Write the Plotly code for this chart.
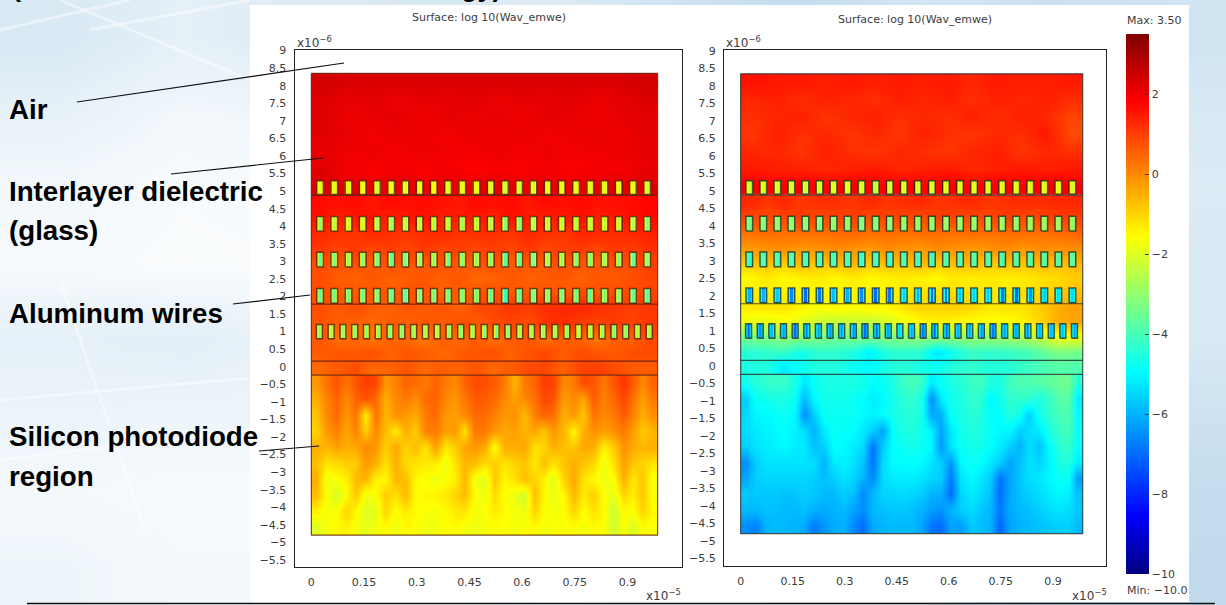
import numpy as np
import plotly.graph_objects as go

W, H = 1226, 605
FONT = "DejaVu Sans"
INK = "#3c3c3c"

# ---- axis ticks -------------------------------------------------------------
y_ticks = [9, 8.5, 8, 7.5, 7, 6.5, 6, 5.5, 5, 4.5, 4, 3.5, 3, 2.5, 2, 1.5, 1, 0.5, 0,
           -0.5, -1, -1.5, -2, -2.5, -3, -3.5, -4, -4.5, -5, -5.5]
x_ticks = [0, 0.15, 0.3, 0.45, 0.6, 0.75, 0.9]
cbar_ticks = [2, 0, -2, -4, -6, -8, -10]
z_min, z_max = -10.0, 3.5

# ---- layer boundaries (x 1e-6 m and x 1e-5 m) --------------------------------
domain_x_end = 0.986
top_y, glass_top_y, layer_a_y, layer_b_y, layer_c_y, bottom_y = 8.35, 4.88, 1.78, 0.16, -0.24, -4.79
wire_rows_y = [5.1, 4.07, 3.05, 2.02, 1.0]

# ---- left panel log10 field --------------------------------------------------
L_air = [
    [2.4, 2.3, 2.3, 2.3, 2.3, 2.3, 2.3, 2.3, 2.3, 2.3, 2.3, 2.3, 2.3, 2.4],
    [2.25, 2.1, 2.2, 2.05, 2.15, 2.1, 2.2, 2.05, 2.15, 2.1, 2.2, 2.05, 2.15, 2.25],
    [2.25, 2.05, 2.1, 2.15, 2.0, 2.15, 2.05, 2.15, 2.0, 2.15, 2.1, 2.0, 2.15, 2.2],
    [2.2, 2.1, 1.95, 2.1, 2.05, 1.95, 2.1, 2.0, 2.1, 1.95, 2.05, 2.1, 2.0, 2.2],
    [2.15, 2.0, 2.05, 1.95, 2.05, 2.0, 1.95, 2.05, 1.95, 2.05, 1.95, 2.0, 2.05, 2.15],
    [2.2, 1.95, 1.85, 1.95, 1.85, 1.95, 1.8, 1.9, 1.85, 1.95, 1.85, 1.95, 1.9, 2.1],
    [2.3, 2.2, 2.1, 2.2, 2.1, 2.15, 2.1, 2.2, 2.1, 2.2, 2.1, 2.15, 2.2, 2.3],
]
L_glass = [
    [1.7, 1.6, 1.7, 1.5, 1.7, 1.6, 1.7, 1.6, 1.5, 1.7, 1.6, 1.7, 1.5, 1.7, 1.6, 1.7, 1.6, 1.6, 1.7, 1.8],
    [1.6, 1.4, 1.5, 1.6, 1.4, 1.5, 1.6, 1.4, 1.5, 1.5, 1.4, 1.6, 1.5, 1.4, 1.5, 1.6, 1.4, 1.5, 1.6, 1.7],
    [1.3, 1.2, 1.1, 1.3, 1.2, 1.1, 1.2, 1.3, 1.1, 1.2, 1.2, 1.1, 1.3, 1.2, 1.1, 1.3, 1.3, 1.2, 1.3, 1.4],
    [1.1, 0.9, 1.1, 0.9, 1.0, 0.9, 1.1, 0.9, 1.0, 0.9, 1.0, 0.9, 1.1, 0.9, 1.0, 1.1, 0.9, 1.1, 1.0, 1.2],
    [0.8, 0.7, 0.8, 0.6, 0.8, 0.7, 0.6, 0.8, 0.6, 0.7, 0.8, 0.6, 0.7, 0.6, 0.8, 0.7, 0.6, 0.8, 0.8, 1.0],
    [0.8, 0.6, 0.5, 0.7, 0.5, 0.6, 0.7, 0.5, 0.7, 0.4, 0.5, 0.7, 0.5, 0.6, 0.7, 0.5, 0.7, 0.6, 0.8, 0.9],
    [0.8, 0.7, 0.6, 0.7, 0.6, 0.7, 0.7, 0.6, 0.6, 0.7, 0.8, 0.6, 0.7, 0.7, 0.6, 0.8, 0.7, 0.8, 0.8, 0.9],
    [0.8, 0.6, 0.8, 0.6, 0.5, 0.7, 0.6, 0.7, 0.5, 0.8, 0.9, 1.1, 1.0, 1.2, 1.3, 1.3, 1.2, 1.1, 1.0, 1.1],
    [0.7, 0.6, 0.5, 0.4, 0.6, 0.5, 0.7, 0.6, 0.8, 0.6, 0.8, 0.9, 0.8, 1.1, 1.2, 1.0, 0.9, 1.0, 0.9, 1.1],
    [0.7, 0.3, 0.5, 0.2, 0.5, 0.4, 0.2, 0.6, 0.4, 0.6, 0.3, 0.6, 0.7, 0.3, 0.6, 0.5, 0.2, 0.6, 0.5, 0.9],
    [0.6, 0.7, 0.6, 0.8, 0.5, 0.7, 0.6, 0.4, 0.6, 0.7, 0.8, 0.5, 0.7, 0.9, 0.6, 0.8, 0.7, 0.6, 0.8, 0.8],
    [0.4, 0.6, 0.8, 0.4, 0.5, 0.7, 0.4, 0.6, 0.5, 0.7, 0.4, 0.6, 0.8, 0.9, 0.5, 0.9, 1.0, 0.8, 0.6, 0.6],
]
L_silicon = [
    [-0.2, 0.3, 0.7, 0.3, 0.7, 1.0, 0.9, -0.2, 0.1, 0.5, 0.4, 0.2, 0.5, 0.2, 0.0, 0.5, 0.8, 0.8, 0.6, 0.2, -0.6, 0.2, 0.5, 1.0, 0.9, 0.0, 0.2, 0.8, 0.7, 0.2, 0.7, 1.1, 0.6, 0.0, 0.5],
    [-0.5, 0.1, 0.5, 0.0, 0.5, 0.7, 0.4, -0.5, 0.0, 0.2, -0.1, 0.4, 0.5, 0.0, -0.2, 0.2, 0.6, 0.6, 0.4, 0.0, -0.3, 0.0, 0.3, 0.9, 0.7, -0.3, 0.0, -0.4, 0.6, 0.1, 0.4, 0.9, 0.3, -0.3, 0.2],
    [-0.8, 0.0, 0.4, -0.2, 0.3, -1.4, 0.3, -0.6, -0.1, -0.2, -0.5, 0.2, 0.4, -0.2, -0.3, 0.0, 0.4, 0.4, 0.1, -0.2, -0.1, -0.7, 0.1, 0.5, 0.3, -0.5, -0.2, -0.8, 0.3, 0.0, 0.2, 0.6, 0.1, -0.5, -0.1],
    [-1.0, -0.2, 0.1, -0.4, 0.1, -0.9, 0.0, -0.7, -1.3, -0.5, -0.9, 0.1, 0.2, -0.3, -0.2, -1.2, 0.2, 0.2, -0.2, -0.4, -0.3, -0.6, -0.4, -0.8, -0.2, -0.6, -1.5, -0.5, -0.1, -0.3, -0.1, 0.2, -0.3, -0.9, -0.6],
    [-0.5, -0.6, -0.3, -0.5, -0.4, 0.0, -0.2, -0.9, -0.4, -1.0, -0.7, -1.2, -0.3, -1.3, -0.9, -0.4, -0.2, -0.4, -1.6, -0.5, -0.5, -0.4, -1.2, -1.0, -0.5, -0.7, -0.8, -0.4, -0.5, -1.4, -0.9, -0.1, -0.5, -0.6, -0.5],
    [-0.7, -1.2, -1.1, -0.9, -0.9, -0.2, -0.5, -1.2, -0.5, -1.1, -1.2, -1.3, -1.3, -1.8, -1.2, -0.6, -0.7, -1.1, -0.9, -1.2, -1.0, -0.8, -1.3, -0.7, -1.2, -0.8, -0.5, -0.8, -1.0, -1.8, -1.2, -0.3, -0.8, -1.0, -1.2],
    [-0.5, -1.8, -1.6, -1.4, -0.6, -0.6, -1.4, -1.5, -0.6, -0.7, -1.5, -1.6, -1.8, -1.6, -1.4, -0.6, -1.7, -2.0, -0.8, -1.5, -1.2, -0.7, -1.0, -1.4, -2.0, -1.0, -0.4, -1.2, -1.5, -1.8, -1.6, -0.5, -1.3, -0.8, -1.7],
    [-0.7, -1.6, -2.1, -1.5, -0.8, -1.8, -1.6, -0.9, -1.2, -0.6, -1.6, -1.5, -1.4, -1.3, -1.0, -0.7, -1.5, -1.8, -1.1, -1.6, -1.8, -2.2, -0.7, -1.5, -1.8, -1.5, -0.6, -1.3, -0.9, -1.6, -1.9, -1.0, -1.4, -0.8, -1.7],
    [-1.4, -1.7, -1.6, -1.0, -1.5, -2.0, -1.9, -1.0, -1.6, -1.3, -1.5, -1.6, -1.7, -1.5, -1.3, -1.2, -1.7, -1.6, -1.3, -1.5, -1.7, -1.8, -1.0, -1.6, -1.7, -1.6, -1.0, -1.6, -1.2, -1.5, -2.3, -1.5, -1.6, -1.0, -1.5],
    [-2.0, -1.7, -1.5, -1.4, -1.7, -1.9, -1.7, -1.5, -1.8, -1.5, -1.6, -1.8, -1.7, -1.6, -1.5, -1.7, -1.8, -1.7, -1.6, -1.6, -1.7, -1.6, -1.5, -1.7, -1.6, -1.6, -1.6, -1.7, -1.5, -1.6, -2.2, -1.6, -2.1, -1.6, -1.6],
]

# ---- right panel log10 field -------------------------------------------------
R_air = [
    [1.6, 1.5, 1.5, 1.4, 1.5, 1.4, 1.5, 1.4, 1.5, 1.3, 1.5, 1.4, 1.4, 1.5],
    [1.3, 1.4, 1.2, 1.4, 1.3, 1.2, 1.4, 1.3, 1.4, 1.2, 1.4, 1.3, 1.4, 1.2],
    [1.2, 1.3, 1.4, 1.1, 1.3, 1.4, 1.2, 1.3, 1.2, 1.4, 1.2, 1.4, 1.3, 0.9],
    [1.1, 1.4, 1.2, 1.3, 1.1, 1.3, 1.1, 1.4, 1.2, 1.1, 1.3, 1.2, 1.5, 0.8],
    [1.3, 1.3, 1.1, 1.4, 1.2, 1.1, 1.3, 1.2, 1.1, 1.3, 1.4, 1.1, 1.3, 1.2],
    [1.5, 1.4, 1.4, 1.3, 1.4, 1.5, 1.3, 1.4, 1.5, 1.3, 1.4, 1.5, 1.4, 1.5],
    [1.9, 1.8, 1.9, 1.8, 1.9, 1.8, 1.9, 1.8, 1.9, 1.8, 1.9, 1.8, 1.9, 1.9],
]
R_glass = [
    [1.3, 1.1, 1.3, 1.1, 1.2, 1.2, 1.1, 1.3, 1.1, 1.2, 1.3, 1.1, 1.2, 1.3, 1.1, 1.2, 1.3, 1.2, 1.3, 1.3],
    [0.9, 0.8, 0.9, 1.0, 0.8, 0.9, 1.0, 0.8, 0.9, 0.9, 0.8, 1.0, 0.9, 0.8, 0.9, 1.0, 0.8, 0.9, 1.0, 1.0],
    [0.3, 0.4, 0.3, 0.4, 0.3, 0.4, 0.5, 0.3, 0.4, 0.3, 0.4, 0.4, 0.3, 0.4, 0.3, 0.4, 0.4, 0.3, 0.4, 0.5],
    [-0.2, -0.1, 0.0, -0.2, -0.1, 0.0, -0.1, -0.2, 0.0, -0.1, -0.2, 0.0, -0.1, -0.2, -0.1, 0.0, -0.2, 0.0, -0.1, 0.0],
    [-0.9, -0.7, -0.9, -0.6, -0.9, -0.7, -0.6, -0.9, -0.7, -0.8, -0.6, -0.9, -0.7, -0.6, -0.9, -0.7, -0.8, -0.6, -0.7, -0.6],
    [-1.5, -1.3, -1.5, -1.4, -1.3, -1.5, -1.3, -1.5, -1.4, -1.3, -1.4, -1.5, -1.3, -1.4, -1.3, -1.4, -1.3, -1.2, -1.1, -0.9],
    [-1.4, -1.3, -1.4, -1.5, -1.5, -1.4, -1.5, -1.4, -1.5, -1.3, -1.2, -1.2, -1.1, -1.2, -1.3, -1.3, -1.2, -1.0, -0.9, -0.7],
    [-1.3, -1.2, -1.2, -1.4, -1.6, -1.4, -1.6, -1.4, -1.5, -1.2, -1.0, -1.0, -0.9, -1.0, -1.3, -1.2, -1.2, -0.9, -0.5, -0.3],
    [-1.8, -1.9, -1.7, -1.9, -2.2, -2.4, -2.2, -2.4, -2.1, -1.8, -1.5, -1.4, -1.5, -1.6, -1.6, -1.6, -1.4, -1.0, -0.5, -0.4],
    [-3.3, -3.2, -3.0, -3.1, -3.2, -3.4, -3.3, -3.3, -3.2, -3.1, -3.0, -3.0, -3.0, -2.9, -2.9, -2.8, -2.6, -2.3, -1.7, -1.7],
    [-4.4, -4.3, -4.2, -4.7, -4.3, -4.3, -4.5, -5.1, -4.5, -4.3, -4.4, -5.3, -4.7, -4.2, -4.3, -4.2, -4.1, -3.7, -3.3, -3.4],
    [-4.6, -4.5, -5.2, -4.8, -4.5, -4.5, -4.8, -5.0, -4.6, -4.4, -4.6, -4.8, -4.4, -4.3, -4.5, -4.5, -4.2, -4.0, -3.8, -3.9],
]
R_silicon = [
    [-4.7, -4.4, -4.3, -4.2, -4.2, -4.6, -5.3, -4.8, -4.6, -4.6, -4.6, -4.6, -4.7, -4.9, -4.8, -4.6, -4.2, -4.0, -4.2, -5.2, -4.8, -4.6, -4.4, -4.2, -4.1, -4.5, -4.6, -4.1, -3.9, -3.9, -3.8, -3.7, -3.5, -3.5, -4.4],
    [-5.6, -4.8, -4.7, -4.6, -4.6, -4.8, -5.9, -5.0, -4.7, -4.7, -4.7, -4.8, -4.9, -5.2, -5.0, -4.7, -4.4, -4.3, -4.6, -6.6, -5.2, -4.7, -4.6, -4.3, -4.3, -5.0, -4.7, -4.3, -4.3, -4.3, -4.6, -4.2, -3.8, -3.7, -5.2],
    [-5.5, -5.0, -5.0, -4.9, -4.8, -5.0, -6.6, -5.6, -4.8, -4.8, -4.8, -4.8, -5.0, -5.1, -4.9, -4.7, -4.5, -4.4, -4.7, -6.2, -6.0, -4.8, -4.6, -4.4, -4.5, -4.9, -4.9, -4.5, -4.7, -5.6, -4.7, -4.3, -4.0, -3.9, -5.0],
    [-5.4, -5.2, -5.1, -5.0, -4.9, -5.1, -5.4, -6.0, -5.2, -4.8, -4.9, -4.9, -5.2, -5.6, -6.2, -4.9, -4.6, -4.5, -4.7, -5.1, -6.2, -5.2, -4.7, -4.5, -4.6, -4.8, -5.0, -5.0, -5.6, -5.4, -5.2, -4.6, -4.2, -4.0, -4.9],
    [-5.6, -5.3, -5.2, -5.1, -5.0, -5.2, -5.2, -5.8, -5.6, -4.9, -5.0, -5.2, -5.4, -6.9, -5.6, -4.9, -4.8, -4.7, -4.8, -5.0, -6.4, -5.3, -4.8, -4.7, -4.7, -4.9, -5.2, -5.6, -6.0, -5.4, -5.8, -5.0, -4.4, -4.2, -4.9],
    [-6.5, -5.6, -5.3, -5.3, -5.3, -5.3, -5.3, -5.4, -6.0, -5.2, -5.1, -5.3, -5.8, -6.9, -5.4, -5.0, -4.9, -4.9, -5.0, -5.3, -5.6, -6.4, -5.0, -4.8, -4.9, -5.2, -5.6, -6.2, -5.8, -5.3, -5.5, -5.1, -4.6, -4.5, -5.2],
    [-6.2, -5.6, -5.5, -5.5, -5.5, -5.5, -5.5, -5.6, -5.8, -5.6, -5.3, -5.5, -6.0, -6.6, -5.4, -5.2, -5.2, -5.2, -5.3, -5.5, -5.6, -6.8, -5.3, -5.0, -5.2, -5.6, -6.9, -6.2, -5.7, -5.4, -5.3, -5.0, -4.8, -4.8, -6.3],
    [-5.7, -5.7, -5.7, -5.7, -5.8, -5.7, -5.6, -5.7, -5.9, -5.9, -5.6, -5.8, -6.6, -5.9, -5.5, -5.5, -5.4, -5.5, -5.6, -6.0, -6.0, -7.0, -5.5, -5.2, -5.4, -5.8, -7.0, -6.1, -5.8, -5.6, -5.4, -5.2, -5.0, -5.1, -5.8],
    [-5.9, -5.9, -5.8, -5.8, -5.9, -5.9, -5.8, -6.0, -6.1, -6.0, -5.9, -6.2, -6.5, -5.9, -5.8, -5.7, -5.7, -5.8, -6.0, -6.3, -6.4, -6.0, -5.6, -5.4, -5.7, -5.9, -6.8, -6.1, -5.9, -5.8, -5.6, -5.4, -5.3, -5.4, -5.7],
    [-6.5, -6.7, -6.0, -5.9, -5.9, -6.0, -6.1, -6.8, -6.4, -6.1, -6.0, -6.6, -7.0, -6.1, -6.0, -5.9, -5.9, -5.9, -6.2, -6.9, -7.0, -6.2, -6.3, -5.7, -5.8, -6.0, -7.1, -6.2, -6.0, -5.9, -5.8, -5.7, -5.6, -5.6, -5.9],
]

# ---- wire interior values: shell, then core of each wire, per row -------------
L_wire_shell = [-1.7, -1.8, -2.1, -2.4, -1.9]
L_wire_core = [
    [-2.0, -1.9, -2.1, -1.9, -2.2, -1.8, -1.9, -1.8, -1.9, -2.1, -2.0, -2.0, -2.2, -2.2, -2.1, -2.0, -1.9, -2.1, -2.0, -2.0, -2.1, -2.0, -1.9, -2.2],
    [-3.3, -2.6, -2.4, -2.3, -2.7, -2.8, -2.4, -2.8, -2.9, -2.7, -3.0, -2.8, -3.1, -3.2, -3.2, -2.5, -2.8, -2.7, -2.6, -2.5, -2.5, -2.8, -2.6, -3.3],
    [-3.8, -3.5, -3.1, -3.6, -3.4, -3.6, -3.4, -3.4, -3.4, -3.7, -3.4, -3.3, -3.6, -3.9, -3.6, -3.3, -3.1, -3.2, -3.4, -3.3, -3.1, -3.5, -3.7, -3.0],
    [-3.8, -3.6, -3.7, -3.9, -3.2, -3.6, -3.7, -3.7, -3.8, -3.6, -3.4, -3.6, -4.2, -4.4, -3.7, -3.2, -3.5, -3.8, -3.6, -4.0, -3.4, -3.2, -3.6, -3.8],
    [-3.4, -3.0, -3.1, -3.2, -3.4, -3.3, -3.3, -3.2, -3.3, -3.1, -3.0, -3.1, -3.4, -3.2, -3.5, -3.6, -3.2, -3.0, -3.1, -3.2, -3.0, -3.1, -2.6, -2.9, -3.2, -3.3, -3.2, -2.9, -3.1],
]
R_wire_shell = [-1.7, -2.7, -3.6, -4.7, -5.0]
R_wire_core = [
    [-2.1, -1.9, -2.1, -2.0, -2.2, -2.0, -1.9, -1.9, -2.0, -2.2, -2.1, -2.1, -2.3, -2.2, -2.1, -2.0, -2.0, -2.1, -2.1, -2.1, -2.2, -2.1, -2.0, -2.2],
    [-3.4, -3.1, -3.0, -3.0, -3.1, -3.1, -3.0, -3.0, -3.2, -3.1, -3.1, -3.1, -3.2, -3.1, -3.1, -3.0, -3.1, -3.0, -3.1, -3.1, -3.0, -3.0, -3.1, -3.2],
    [-4.2, -3.8, -3.8, -3.8, -3.9, -3.9, -3.9, -3.8, -4.1, -4.0, -4.2, -4.1, -4.3, -4.4, -4.1, -3.9, -3.8, -3.9, -4.0, -3.9, -3.9, -3.8, -3.9, -3.7],
    [-6.0, -6.0, -5.6, -6.6, -7.0, -6.8, -5.8, -6.0, -6.5, -7.0, -6.8, -5.5, -6.0, -7.2, -6.8, -5.7, -5.5, -5.6, -6.8, -7.2, -6.5, -5.6, -5.4, -5.4],
    [-7.2, -6.5, -6.2, -6.5, -7.0, -6.8, -6.2, -6.4, -6.6, -6.8, -7.0, -7.0, -6.2, -5.6, -6.2, -6.8, -7.2, -7.0, -6.0, -6.4, -6.6, -6.8, -6.4, -6.2, -6.8, -6.2, -5.8, -5.8, -6.2],
]

# ---- slide background (pale photo behind the figure), 0 = blue, 1 = white ------
bg_tone = [
    [0.55, 0.70, 0.60, 0.55, 0.60, 0.45, 0.30, 0.50, 0.40, 0.45],
    [0.72, 0.85, 0.80, 0.75, 0.70, 0.65, 0.60, 0.60, 0.55, 0.55],
    [0.86, 0.92, 0.90, 0.85, 0.80, 0.70, 0.70, 0.70, 0.60, 0.60],
    [0.90, 0.94, 0.92, 0.85, 0.80, 0.70, 0.70, 0.70, 0.55, 0.55],
    [0.70, 0.66, 0.75, 0.80, 0.80, 0.70, 0.70, 0.70, 0.60, 0.55],
    [0.78, 0.80, 0.80, 0.85, 0.80, 0.70, 0.70, 0.70, 0.50, 0.42],
    [0.88, 0.92, 0.92, 0.90, 0.80, 0.70, 0.70, 0.70, 0.45, 0.32],
    [0.80, 0.88, 0.88, 0.88, 0.80, 0.70, 0.70, 0.70, 0.40, 0.28],
]
bg_streak_x = [60, 145, None, 0, 250, None, 0, 250, None, 0, 130, None, 60, 250, None, 90, 250]
bg_streak_y = [280, 530, None, 400, 378, None, 460, 430, None, 30, 0, None, 0, 80, None, 30, 0]

# ---- texts -------------------------------------------------------------------
panel_title = "Surface: log 10(Wav_emwe)"
region_labels = ["Air", "Interlayer dielectric", "(glass)", "Aluminum wires", "Silicon photodiode", "region"]
region_label_y = [109, 191, 230, 313, 436, 477]
leader_from = [(77, 102), (171, 174), (233, 304), (259, 451)]
leader_to = [(344, 63), (323, 158), (310, 295), (319, 446)]

JET = [[0, "#000080"], [0.11, "#0000ff"], [0.375, "#00ffff"], [0.5, "#80ff80"],
       [0.625, "#ffff00"], [0.875, "#ff0000"], [1, "#800000"]]

fig = go.Figure()


def px_x(v):
    return v / W


def px_y(v):
    return 1 - v / H


# Background subplot, in page pixels
fig.add_trace(go.Heatmap(
    z=bg_tone, x=np.linspace(0, W, len(bg_tone[0]) + 1), y=np.linspace(0, H, len(bg_tone) + 1),
    colorscale=[[0, "#a9cde6"], [1, "#ffffff"]], zmin=0, zmax=1, zsmooth="best", showscale=False,
    hoverinfo="skip", xaxis="x", yaxis="y"))
fig.add_trace(go.Scatter(x=bg_streak_x, y=bg_streak_y, mode="lines",
                         line=dict(color="rgba(255,255,255,0.45)", width=3), hoverinfo="skip",
                         showlegend=False, xaxis="x", yaxis="y"))
fig.add_trace(go.Scatter(x=[250, 1189, 1189, 250, 250], y=[5, 5, 602, 602, 5], mode="lines", fill="toself",
                         fillcolor="#ffffff", line=dict(width=0, color="#ffffff"), hoverinfo="skip",
                         showlegend=False, xaxis="x", yaxis="y"))
fig.add_trace(go.Scatter(x=[250, 763], y=[603, 603], mode="lines", line=dict(color="#ffffff", width=2),
                         hoverinfo="skip", showlegend=False, xaxis="x", yaxis="y"))


def add_panel(n, air, glass, silicon, shell, core, outline):
    xa, ya = f"x{n}", f"y{n}"
    regions = [(air, top_y, glass_top_y), (glass, glass_top_y, layer_c_y), (silicon, layer_c_y, bottom_y)]
    for z, y_a, y_b in regions:
        fig.add_trace(go.Heatmap(
            z=z, x=np.linspace(0, domain_x_end, len(z[0]) + 1), y=np.linspace(y_a, y_b, len(z) + 1),
            coloraxis="coloraxis", zsmooth="best", xaxis=xa, yaxis=ya, hoverinfo="skip"))
    out_x, out_y = [], []
    for row, yc in enumerate(wire_rows_y):
        cores = core[row]
        n_w = len(cores)
        if n_w == 24:
            first, pitch, half_w, half_h = 0.0248, 0.0405, 0.0095, 0.21
        else:
            first, pitch, half_w, half_h = 0.0228, 0.03355, 0.0085, 0.205
        if row == 0:
            half_h = 0.195
        edges, vals = [], []
        for k, c in enumerate(cores):
            xc = first + k * pitch
            edges += [xc - half_w, xc - half_w * 0.4, xc + half_w * 0.4, xc + half_w]
            vals += [shell[row], c, shell[row]]
            if k < n_w - 1:
                vals.append(None)
            out_x += [xc - half_w, xc + half_w, xc + half_w, xc - half_w, xc - half_w, None]
            out_y += [yc - half_h, yc - half_h, yc + half_h, yc + half_h, yc - half_h, None]
        fig.add_trace(go.Heatmap(z=[vals], x=edges, y=[yc - half_h, yc + half_h], coloraxis="coloraxis",
                                 xaxis=xa, yaxis=ya, hoverinfo="skip"))
    fig.add_trace(go.Scatter(x=out_x, y=out_y, mode="lines", line=dict(color=outline, width=1.5),
                             hoverinfo="skip", showlegend=False, xaxis=xa, yaxis=ya))
    lx, ly = [0, domain_x_end, domain_x_end, 0, 0], [top_y, top_y, bottom_y, bottom_y, top_y]
    for yy in (glass_top_y, layer_a_y, layer_b_y, layer_c_y):
        lx += [None, 0, domain_x_end]
        ly += [None, yy, yy]
    fig.add_trace(go.Scatter(x=lx, y=ly, mode="lines", line=dict(color=outline, width=1.2),
                             hoverinfo="skip", showlegend=False, xaxis=xa, yaxis=ya))


add_panel(2, L_air, L_glass, L_silicon, L_wire_shell, L_wire_core, "rgba(90,25,10,0.8)")
add_panel(3, R_air, R_glass, R_silicon, R_wire_shell, R_wire_core, "rgba(30,45,40,0.8)")

axis_common = dict(showgrid=False, zeroline=False, showline=True, mirror=True, linecolor="#222222",
                   linewidth=1, ticks="", tickfont=dict(family=FONT, size=11, color=INK),
                   ticklabelstandoff=5, tickmode="array")

shapes = []
for (a, b), (c, d) in zip(leader_from, leader_to):
    shapes.append(dict(type="line", xref="paper", yref="paper", x0=px_x(a), y0=px_y(b), x1=px_x(c), y1=px_y(d),
                       line=dict(color="#111111", width=1.2)))
shapes.append(dict(type="line", xref="paper", yref="paper", x0=px_x(27), y0=px_y(603.5), x1=px_x(1215),
                   y1=px_y(603.5), line=dict(color="#111111", width=1.5)))
for v in cbar_ticks[:-1]:
    yy = px_y(574 - (v - z_min) * 40)
    shapes.append(dict(type="line", xref="paper", yref="paper", x0=px_x(1126), y0=yy, x1=px_x(1130), y1=yy,
                       line=dict(color="#333333", width=1)))

annots = []
for t, yy in zip(region_labels, region_label_y):
    annots.append(dict(text=t, x=px_x(8), y=px_y(yy), xref="paper", yref="paper", xanchor="left", yanchor="middle",
                       showarrow=False, borderpad=0,
                       font=dict(family="Liberation Sans", size=27.7, color="#000000", weight=700)))


def small(text, x, y, anchor="center", size=11):
    annots.append(dict(text=text, x=px_x(x), y=px_y(y), xref="paper", yref="paper", xanchor=anchor, yanchor="middle",
                       showarrow=False, font=dict(family=FONT, size=size, color=INK), borderpad=0))


small(panel_title, 489, 18)
small(panel_title, 915, 19)
small("x10<sup>−6</sup>", 296, 42, "left", 12)
small("x10<sup>−6</sup>", 725, 42, "left", 12)
small("x10<sup>−5</sup>", 645, 595, "left", 12)
small("x10<sup>−5</sup>", 1071, 595, "left", 12)
small("Max: 3.50", 1126, 20, "left", 11)
small("Min: −10.0", 1126, 590, "left", 11)
# The slide's cut-off heading: only the bottom of these glyphs is on the page.
for t, xx, anc in [("(", 11, "left"), ("gy)", 503, "right")]:
    annots.append(dict(text=t, x=xx, y=3, xref="x", yref="y", xanchor=anc, yanchor="bottom", showarrow=False,
                       borderpad=0, font=dict(family="Liberation Sans", size=27, color="#000", weight=700)))

fig.update_layout(
    width=W, height=H, margin=dict(l=0, r=0, t=0, b=0, pad=0, autoexpand=False), showlegend=False,
    paper_bgcolor="#ffffff", plot_bgcolor="rgba(0,0,0,0)",
    xaxis=dict(domain=[0, 1], range=[0, W], visible=False),
    yaxis=dict(domain=[0, 1], range=[H, 0], visible=False),
    xaxis2=dict(domain=[px_x(294.5), px_x(681.5)], range=[-0.048, 1.054], anchor="y2", tickvals=x_ticks, **axis_common),
    yaxis2=dict(domain=[px_y(567), px_y(49.5)], range=[-5.7, 9.03], anchor="x2", tickvals=y_ticks, **axis_common),
    xaxis3=dict(domain=[px_x(724), px_x(1106.3)], range=[-0.048, 1.054], anchor="y3", tickvals=x_ticks, **axis_common),
    yaxis3=dict(domain=[px_y(565.5), px_y(50)], range=[-5.7, 9.03], anchor="x3", tickvals=y_ticks, **axis_common),
    coloraxis=dict(colorscale=JET, cmin=z_min, cmax=z_max, colorbar=dict(
        x=px_x(1125.7), xanchor="left", thickness=22.5, len=540 / H, lenmode="fraction", y=px_y(34), yanchor="top",
        xpad=0, ypad=0, outlinewidth=0, tickmode="array", tickvals=cbar_ticks, ticks="inside", ticklen=4,
        tickcolor="#333333", tickfont=dict(family=FONT, size=11, color=INK))),
    shapes=shapes, annotations=annots,
)

fig.write_html("out.html", config={"displayModeBar": False}, post_script="document.body.style.margin='0';")
